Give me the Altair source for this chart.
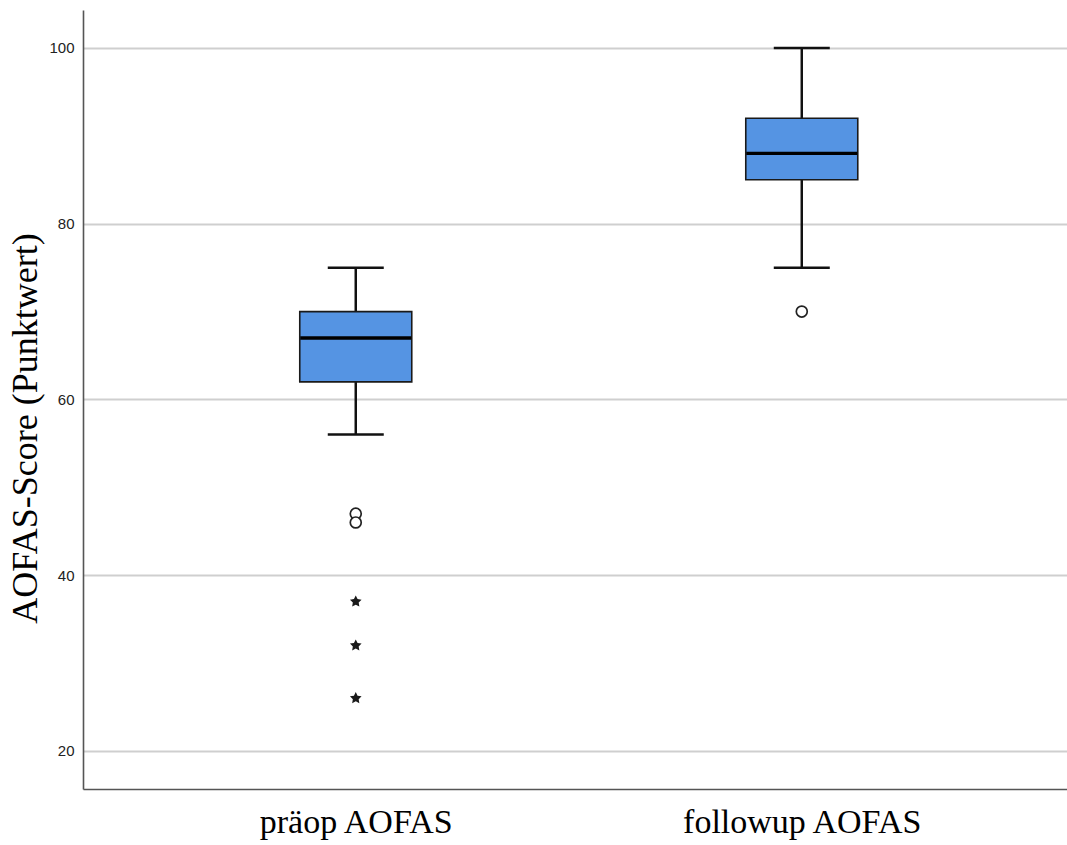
import altair as alt
import pandas as pd

# AOFAS score summary per time point (box plot statistics)
groups = ["präop AOFAS", "followup AOFAS"]
whisker_low = [56, 75]
q1 = [62, 85]
median = [67, 88]
q3 = [70, 92]
whisker_high = [75, 100]

# outliers (circles) and extreme values (stars)
outlier_group = ["präop AOFAS", "präop AOFAS", "followup AOFAS"]
outlier_value = [47, 46, 70]
extreme_group = ["präop AOFAS", "präop AOFAS", "präop AOFAS"]
extreme_value = [37, 32, 26]

stats = pd.DataFrame({
    "group": groups,
    "lo": whisker_low,
    "q1": q1,
    "med": median,
    "q3": q3,
    "hi": whisker_high,
})
outliers = pd.DataFrame({"group": outlier_group, "value": outlier_value})
extremes = pd.DataFrame({"group": extreme_group, "value": extreme_value})

# five-pointed star symbol for extreme values
STAR = ("M0,-1L0.294,-0.405L0.951,-0.309L0.476,0.155L0.588,0.809L0,0.5"
        "L-0.588,0.809L-0.476,0.155L-0.951,-0.309L-0.294,-0.405Z")

x_enc = alt.X(
    "group:N",
    sort=groups,
    scale=alt.Scale(type="point", padding=0.6031, align=0.507),
    axis=alt.Axis(
        title=None,
        labelFont="Liberation Serif",
        labelFontSize=34,
        labelColor="#000000",
        labelPadding=16,
        labelLimit=0,
        ticks=False,
        grid=False,
        labelAngle=0,
    ),
)
y_scale = alt.Scale(domain=[15.67, 104.32], nice=False, zero=False)
y_axis = alt.Axis(
    title="AOFAS-Score (Punktwert)",
    titleFont="Liberation Serif",
    titleFontSize=36,
    titleFontWeight="normal",
    titleColor="#000000",
    titlePadding=4,
    titleY=418,
    values=[20, 40, 60, 80, 100],
    labelFont="Liberation Sans",
    labelFontSize=15,
    labelColor="#222222",
    labelPadding=9,
    ticks=False,
    grid=True,
    gridColor="#cfcfcf",
    gridWidth=2,
)

base = alt.Chart(stats)

lower_whisker = base.mark_rule(color="#111111", strokeWidth=2.5).encode(
    x=x_enc, y=alt.Y("lo:Q", scale=y_scale, axis=y_axis), y2="q1:Q"
)
upper_whisker = base.mark_rule(color="#111111", strokeWidth=2.5).encode(
    x=x_enc, y=alt.Y("q3:Q", scale=y_scale), y2="hi:Q"
)
box = base.mark_bar(
    size=112, color="#5594E3", stroke="#1a1a1a", strokeWidth=1.6
).encode(x=x_enc, y=alt.Y("q1:Q", scale=y_scale), y2="q3:Q")
med = base.mark_tick(size=111, thickness=3.4, color="#000000", opacity=1).encode(
    x=x_enc, y=alt.Y("med:Q", scale=y_scale)
)
cap_lo = base.mark_tick(size=56, thickness=2.5, color="#111111", opacity=1).encode(
    x=x_enc, y=alt.Y("lo:Q", scale=y_scale)
)
cap_hi = base.mark_tick(size=56, thickness=2.5, color="#111111", opacity=1).encode(
    x=x_enc, y=alt.Y("hi:Q", scale=y_scale)
)
out_pts = alt.Chart(outliers).mark_point(
    shape="circle", size=120, filled=False, color="#222222", strokeWidth=1.7,
    fill="white", fillOpacity=1, opacity=1
).encode(x=x_enc, y=alt.Y("value:Q", scale=y_scale))
ext_pts = alt.Chart(extremes).mark_point(
    shape=STAR, size=150, filled=True, color="#1a1a1a", opacity=1
).encode(x=x_enc, y=alt.Y("value:Q", scale=y_scale))

chart = (
    alt.layer(lower_whisker, upper_whisker, box, med, cap_lo, cap_hi, out_pts, ext_pts)
    .properties(
        width=984,
        height=779,
        autosize=alt.AutoSizeParams(type="none"),
        padding={"left": 83, "top": 10, "right": 0, "bottom": 56},
        background="white",
    )
    .configure_view(stroke=None)
    .configure_axis(domainColor="#555555", domainWidth=1.6)
)

chart.save("out.html", embed_options={"renderer": "svg", "actions": False})
